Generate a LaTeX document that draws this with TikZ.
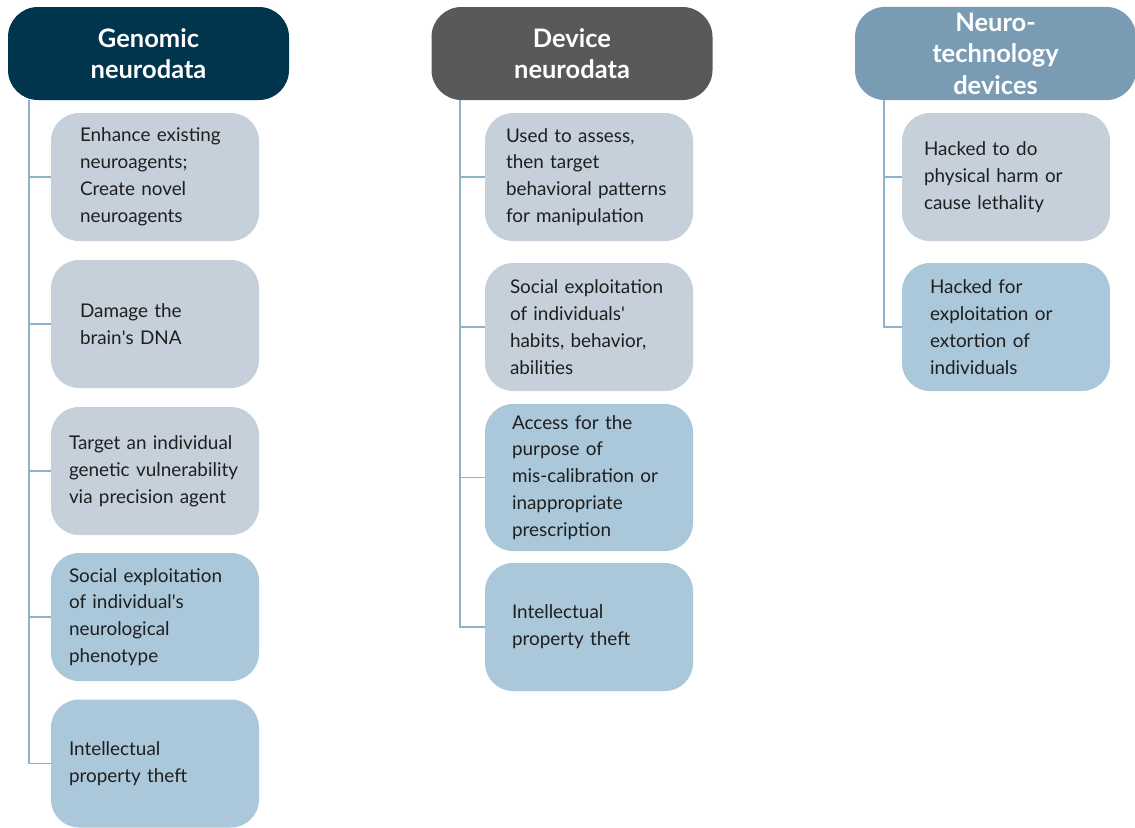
\documentclass[tikz,border=0pt]{standalone}
\usepackage{fontspec}
\setmainfont{Lato}
\definecolor{navy}{HTML}{01344D}
\definecolor{slate}{HTML}{58595B}
\definecolor{steel}{HTML}{7A9BB4}
\definecolor{palegrey}{HTML}{C5D0DB}
\definecolor{paleblue}{HTML}{AAC8DA}
\definecolor{linkblue}{HTML}{8DB3CB}
\begin{document}
\begin{tikzpicture}[
    head/.style={rounded corners=0.6cm, minimum width=5.62cm, minimum height=1.86cm,
      text=white, align=center, font=\bfseries\fontsize{14.5}{17.9}\selectfont},
    entry/.style={rounded corners=0.56cm, minimum width=4.16cm, minimum height=2.56cm,
      align=left, text width=#1, text=black!88, font=\fontsize{10.75}{15.3}\selectfont},
    entry/.default=3.0cm,
    link/.style={draw=linkblue, line width=0.9pt}]
    \useasboundingbox (0,0) rectangle (22.7,-16.54);
    \node[head, fill=navy] (gen) at (2.97,-1.07) {Genomic\\neurodata};
    \node[head, fill=slate] (dev) at (11.44,-1.07) {Device\\neurodata};
    \node[head, fill=steel] (tech) at (19.91,-1.07) {Neuro-\\technology\\devices};
    \node[entry=3.0cm, fill=palegrey] (gen1) at (3.10,-3.54) {Enhance existing\\neuroagents;\\Create novel\\neuroagents};
    \node[entry=3.0cm, fill=palegrey] (gen2) at (3.10,-6.48) {Damage the\\brain\textquotesingle s DNA};
    \node[entry=3.44cm, fill=palegrey] (gen3) at (3.10,-9.42) {Target an individual\\genetic vulnerability\\via precision agent};
    \node[entry=3.44cm, fill=paleblue] (gen4) at (3.10,-12.34) {Social exploitation\\of individual\textquotesingle s\\neurological\\phenotype};
    \node[entry=3.44cm, fill=paleblue] (gen5) at (3.10,-15.27) {Intellectual\\property theft};
    \node[entry=3.32cm, fill=palegrey] (dev1) at (11.78,-3.54) {Used to assess,\\then target\\behavioral patterns\\for manipulation};
    \node[entry=3.16cm, fill=palegrey] (dev2) at (11.78,-6.54) {Social exploitation\\of individuals\textquotesingle\\habits, behavior,\\abilities};
    \node[entry=3.08cm, fill=paleblue, minimum height=2.94cm] (dev3) at (11.78,-9.55) {Access for the\\purpose of\\mis-calibration or\\inappropriate\\prescription};
    \node[entry=3.08cm, fill=paleblue] (dev4) at (11.78,-12.54) {Intellectual\\property theft};
    \node[entry=3.28cm, fill=palegrey] (tech1) at (20.12,-3.54) {Hacked to do\\physical harm or\\cause lethality};
    \node[entry=3.04cm, fill=paleblue] (tech2) at (20.12,-6.54) {Hacked for\\exploitation or\\extortion of\\individuals};
    \coordinate (genx) at (0.58,0);
    \coordinate (devx) at (9.20,0);
    \coordinate (techx) at (17.68,0);
    \foreach \i in {1,...,5}
      \draw[link] (gen.south -| genx) |- (gen\i.west);
    \foreach \i in {1,...,4}
      \draw[link] (dev.south -| devx) |- (dev\i.west);
    \foreach \i in {1,2}
      \draw[link] (tech.south -| techx) |- (tech\i.west);
\end{tikzpicture}
\end{document}
